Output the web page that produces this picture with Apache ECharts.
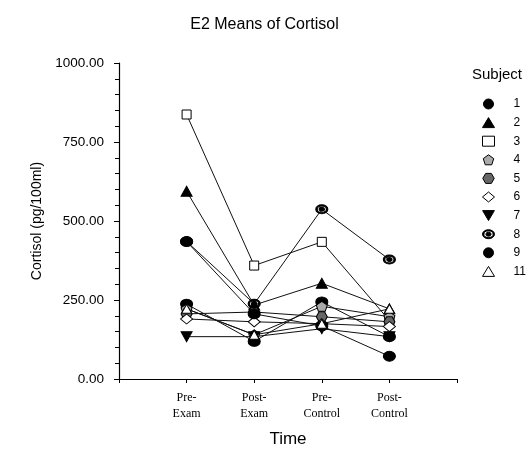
<!DOCTYPE html>
<html>
<head>
<meta charset="utf-8">
<script src="https://cdn.jsdelivr.net/npm/echarts@6/dist/echarts.min.js"></script>
<style>
  html, body { margin: 0; padding: 0; background: #fff; }
  #chart { width: 529px; height: 453px; }
</style>
</head>
<body>
<div id="chart"></div>
<script>
// Time points along the x axis
const timeLabels = ['Pre-\nExam', 'Post-\nExam', 'Pre-\nControl', 'Post-\nControl'];
// Subject identifiers shown in the legend
const subjects = ['1', '2', '3', '4', '5', '6', '7', '8', '9', '11'];
// Mean cortisol (pg/100ml) per subject at each time point
const s1  = [237, 119, 244, 134];
const s2  = [594, 234, 303, 222];
const s3  = [837, 359, 434, 185];
const s4  = [222, 140, 230, 197];
const s5  = [206, 212, 197, 181];
const s6  = [190, 181, 175, 166];
const s7  = [134, 134, 159, 134];
const s8  = [435, 238, 537, 378];
const s9  = [435, 206, 168, 72];
const s11 = [222, 140, 175, 222];
const values = [s1, s2, s3, s4, s5, s6, s7, s8, s9, s11];

// Marker shapes for each subject
const pentagon = 'path://M0,-10 L9.5,-3.1 L5.9,8.1 L-5.9,8.1 L-9.5,-3.1 Z';
const hexagon = 'path://M-5,-8.7 L5,-8.7 L10,0 L5,8.7 L-5,8.7 L-10,0 Z';
const downTri = 'path://M-10,-8 L10,-8 L0,9 Z';
const ringDot = 'path://M-6,0 A6,4.5 0 1 0 6,0 A6,4.5 0 1 0 -6,0 Z ' +
                'M-4.6,0 A4.6,3.3 0 1 1 4.6,0 A4.6,3.3 0 1 1 -4.6,0 Z ' +
                'M-2.6,0 A2.6,2 0 1 0 2.6,0 A2.6,2 0 1 0 -2.6,0 Z';

const markers = [
  { symbol: 'circle',   size: [12, 10], fill: '#000', border: '#000' },
  { symbol: 'triangle', size: [11, 10], fill: '#000', border: '#000' },
  { symbol: 'rect',     size: [9, 9],   fill: '#fff', border: '#000' },
  { symbol: pentagon,   size: [11, 10], fill: '#aaa', border: '#000' },
  { symbol: hexagon,    size: [11, 10], fill: '#666', border: '#000' },
  { symbol: 'diamond',  size: [12, 10], fill: '#fff', border: '#000' },
  { symbol: downTri,    size: [11, 10], fill: '#000', border: '#000' },
  { symbol: ringDot,    size: [12, 9],  fill: '#000', border: '#000' },
  { symbol: 'circle',   size: [12, 10], fill: '#000', border: '#000' },
  { symbol: 'triangle', size: [10, 9],  fill: '#fff', border: '#000' }
];

const series = subjects.map((name, i) => ({
  name: name,
  type: 'line',
  data: values[i].map((v, j) => [j + 1, v]),
  symbol: markers[i].symbol,
  symbolSize: markers[i].size,
  showAllSymbol: true,
  lineStyle: { color: '#111', width: 1 },
  itemStyle: {
    color: markers[i].fill,
    borderColor: markers[i].border,
    borderWidth: 1
  },
  emphasis: { disabled: true },
  animation: false
}));

const chart = echarts.init(document.getElementById('chart'), null, { renderer: 'canvas' });
chart.setOption({
  backgroundColor: '#fff',
  animation: false,
  textStyle: { fontFamily: 'Liberation Sans, Arial, sans-serif', color: '#000' },
  title: [
    {
      text: 'E2 Means of Cortisol',
      left: 'center',
      top: 12,
      textStyle: { fontSize: 16, fontWeight: 'normal', color: '#000',
                   fontFamily: 'Liberation Sans, Arial, sans-serif' }
    },
    {
      text: 'Subject',
      left: 467,
      top: 62,
      textStyle: { fontSize: 15, fontWeight: 'normal', color: '#000',
                   fontFamily: 'Liberation Sans, Arial, sans-serif' }
    }
  ],
  legend: {
    orient: 'vertical',
    left: 477,
    top: 93,
    itemWidth: 12,
    itemHeight: 10,
    itemGap: 6.6,
    selectedMode: false,
    data: subjects.map((name, i) => ({
      name: name,
      icon: markers[i].symbol,
      itemStyle: { color: markers[i].fill, borderColor: markers[i].border, borderWidth: 1 }
    })),
    textStyle: { fontSize: 12, color: '#000', padding: [0, 0, 0, 14] }
  },
  grid: { left: 119, right: 72, top: 63, bottom: 70, containLabel: false },
  xAxis: {
    type: 'value',
    min: 0,
    max: 5,
    interval: 1,
    name: 'Time',
    nameLocation: 'middle',
    nameGap: 52,
    nameTextStyle: { fontSize: 17, color: '#000' },
    axisLine: { lineStyle: { color: '#000', width: 1.2 } },
    axisTick: { show: true, length: 4, lineStyle: { color: '#000' } },
    splitLine: { show: false },
    axisLabel: {
      margin: 11,
      fontFamily: 'Liberation Serif, Times New Roman, serif',
      fontSize: 12,
      lineHeight: 16,
      color: '#000',
      align: 'center',
      formatter: v => (v >= 1 && v <= timeLabels.length) ? timeLabels[v - 1] : ''
    }
  },
  yAxis: {
    type: 'value',
    min: 0,
    max: 1000,
    interval: 250,
    name: 'Cortisol (pg/100ml)',
    nameLocation: 'middle',
    nameGap: 73,
    nameTextStyle: { fontSize: 14, color: '#000' },
    axisLine: { show: true, lineStyle: { color: '#000', width: 1.2 } },
    axisTick: { show: true, length: 5, lineStyle: { color: '#000' } },
    minorTick: { show: true, splitNumber: 5, length: 4, lineStyle: { color: '#000' } },
    splitLine: { show: false },
    axisLabel: {
      margin: 15,
      fontSize: 13.5,
      color: '#000',
      formatter: v => v.toFixed(2)
    }
  },
  series: series
});
</script>
</body>
</html>
